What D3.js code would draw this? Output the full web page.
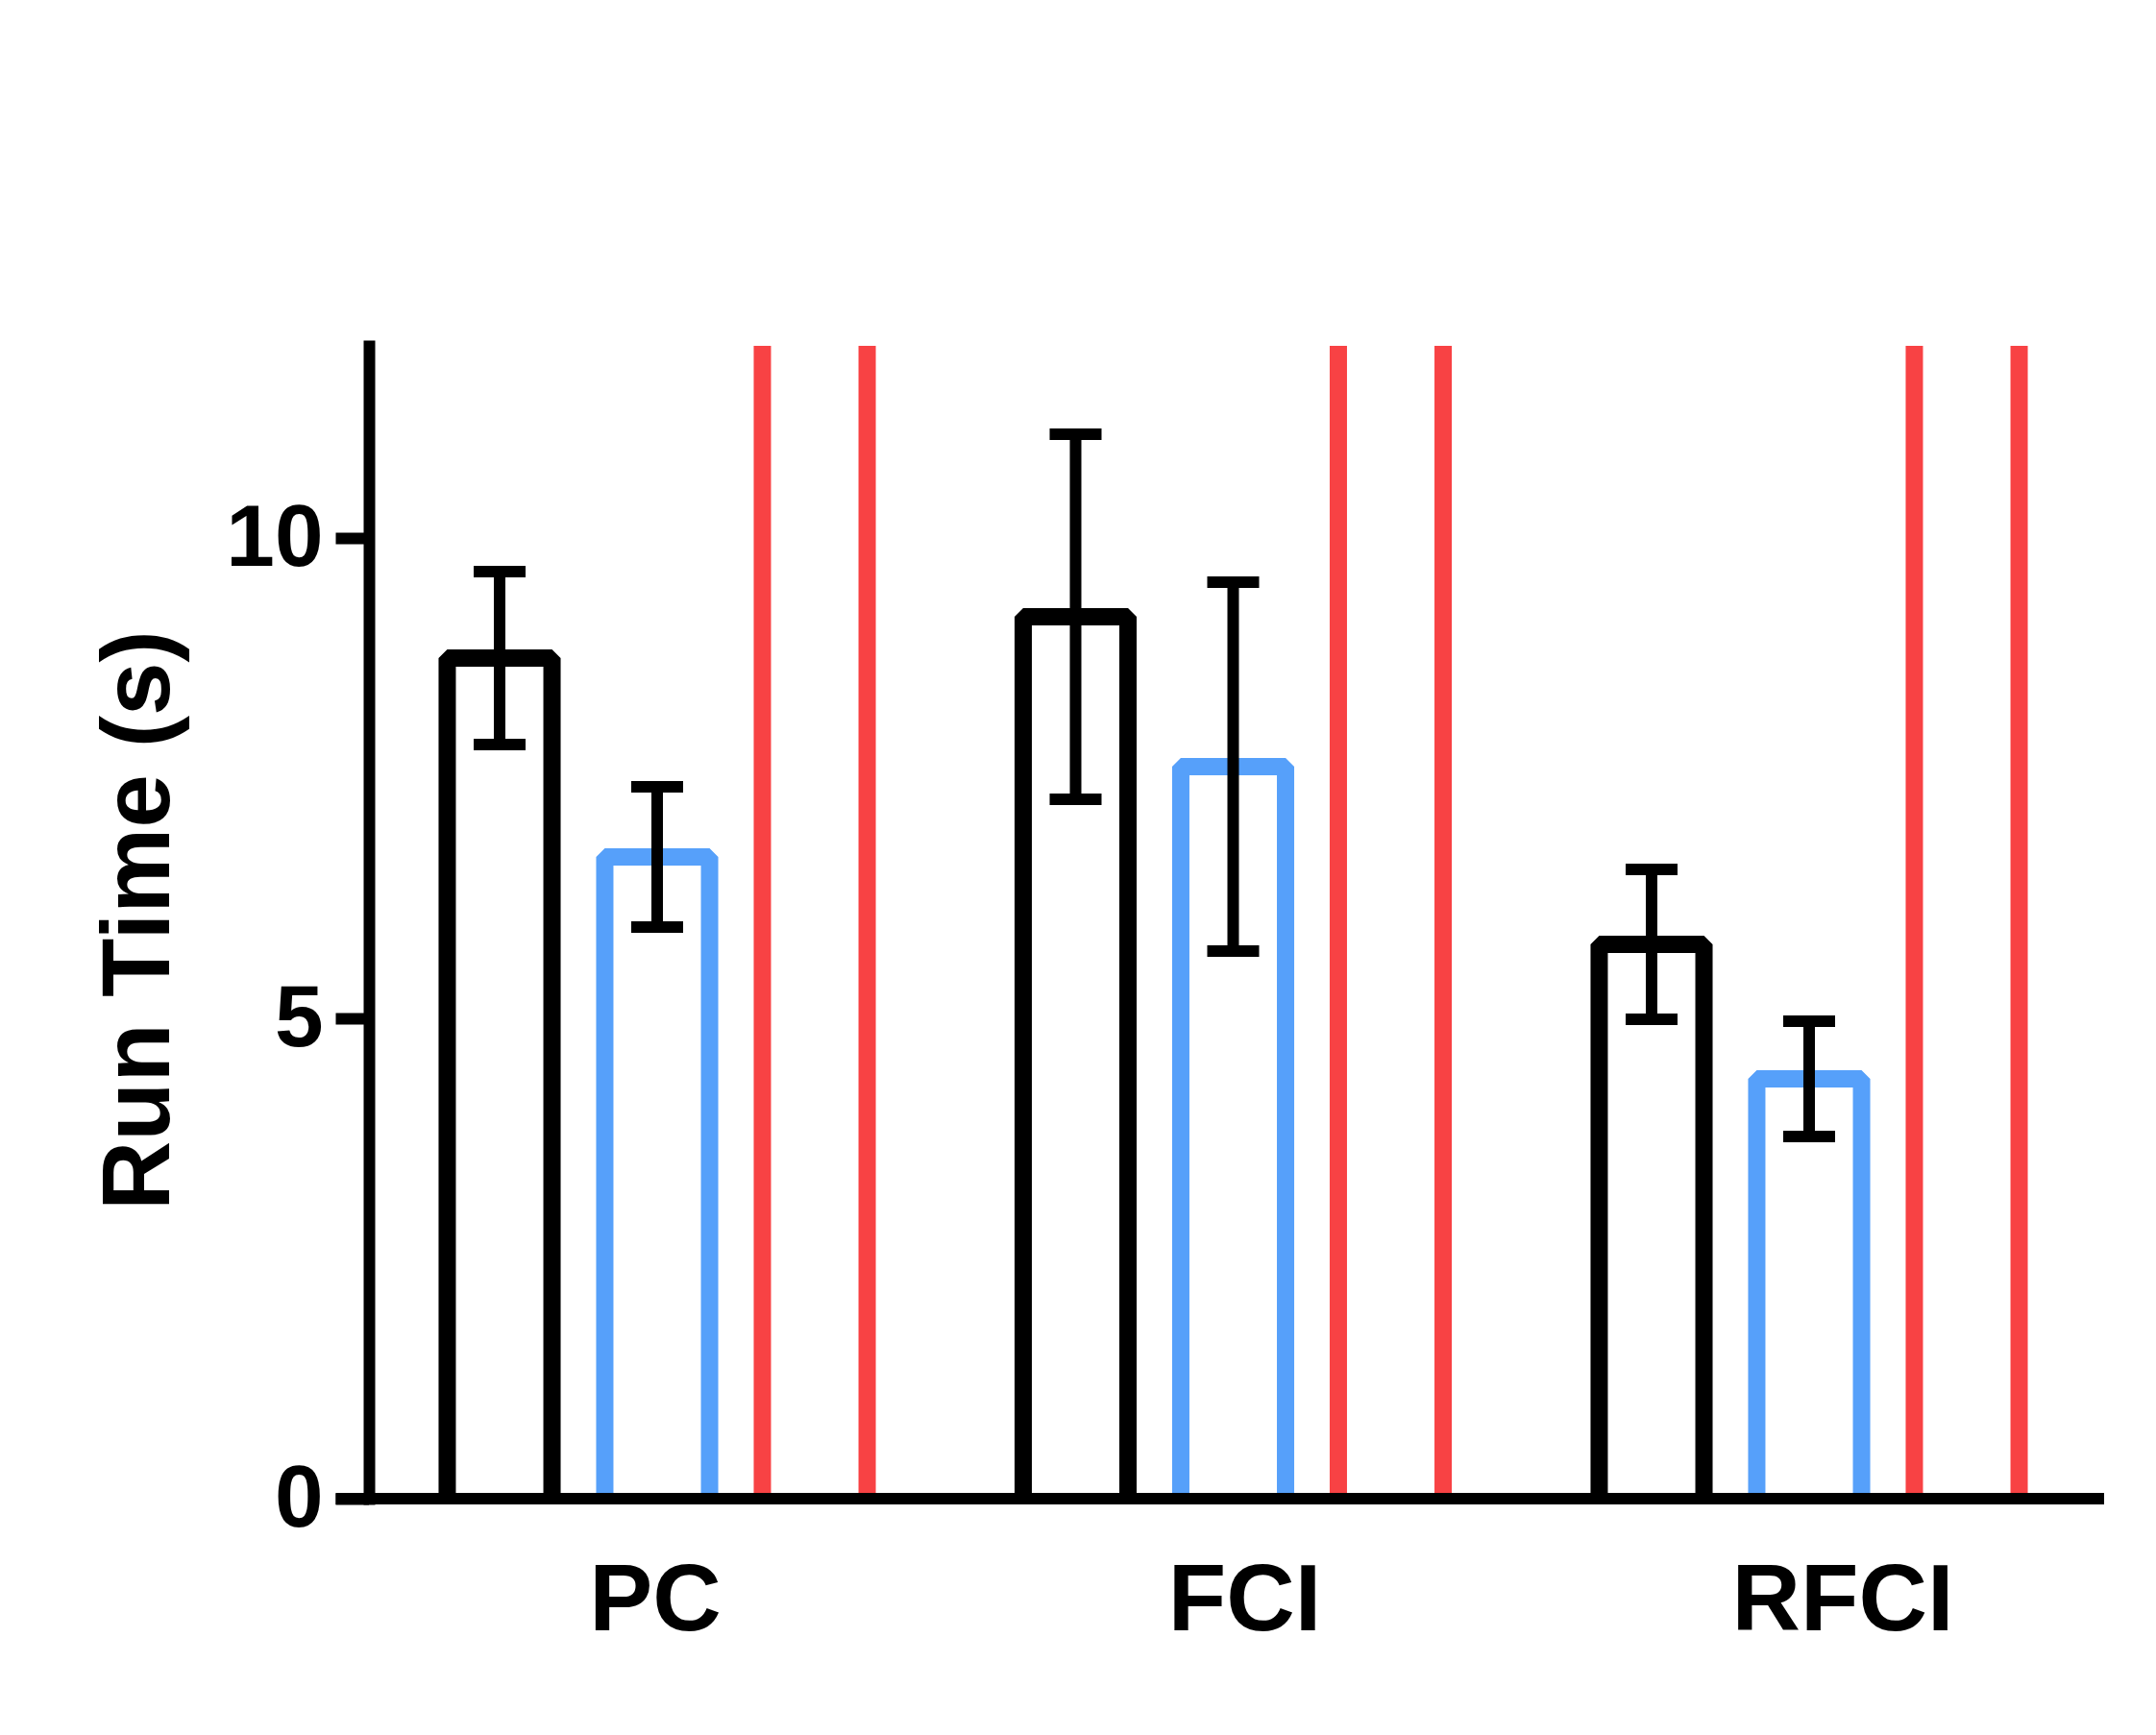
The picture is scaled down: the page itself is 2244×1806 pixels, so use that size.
<!DOCTYPE html>
<html>
<head>
<meta charset="utf-8">
<script src="https://cdn.jsdelivr.net/npm/d3@7"></script>
<style>
  body { margin: 0; background: #fff; }
  svg { display: block; }
  text { font-family: "Liberation Sans", Arial, sans-serif; font-weight: bold; fill: #000; }
</style>
</head>
<body>
<svg id="chart" width="2244" height="1806"></svg>
<script>
// categories and series
const categories = ["PC", "FCI", "RFCI"];
const seriesKeys = ["A", "B", "C"];
const seriesColors = ["#000000", "#56A0FA", "#F84244"];

// mean run time (s) and error per series
const meanA = [8.75, 9.18, 5.77];
const errA  = [0.90, 1.90, 0.78];
const meanB = [6.68, 7.62, 4.37];
const errB  = [0.73, 1.92, 0.60];
// third series runs off the top of the 0-12 axis in the original
const meanC = [13, 13, 13];

const yTicks = [0, 5, 10];
const yMax = 12;
const yTitle = "Run Time (s)";

// layout
const axisX = 384, plotTop = 360, plotBottom = 1560;
const labelNudge = [-2, 12, 35];

const rows = [];
categories.forEach((c, i) => {
  rows.push({cat: c, key: "A", v: meanA[i], e: errA[i]});
  rows.push({cat: c, key: "B", v: meanB[i], e: errB[i]});
  rows.push({cat: c, key: "C", v: meanC[i], e: null});
});

const svg = d3.select("#chart");

const x0 = d3.scaleBand().domain(categories).range([438, 2129]).paddingInner(0.1793).paddingOuter(0);
const x1 = d3.scaleBand().domain(seriesKeys).range([0, x0.bandwidth()]).paddingInner(0.335).paddingOuter(0.1675);
const y = d3.scaleLinear().domain([0, yMax]).range([plotBottom, plotTop]);
const color = d3.scaleOrdinal().domain(seriesKeys).range(seriesColors);

svg.append("defs").append("clipPath").attr("id", "plotClip")
  .append("rect").attr("x", 0).attr("y", plotTop).attr("width", 2244).attr("height", plotBottom - plotTop + 10);

// bars (open outline, no bottom edge)
const bars = svg.append("g").attr("clip-path", "url(#plotClip)");
bars.selectAll("path.bar")
  .data(rows)
  .join("path")
  .attr("class", "bar")
  .attr("d", d => {
    const l = x0(d.cat) + x1(d.key), r = l + x1.bandwidth();
    return `M${l},${y(0)}V${y(d.v)}H${r}V${y(0)}`;
  })
  .attr("fill", "none")
  .attr("stroke", d => color(d.key))
  .attr("stroke-width", 18)
  .attr("stroke-linejoin", "bevel");

// error bars
const capW = 54;
const eb = svg.append("g").selectAll("g.err")
  .data(rows.filter(d => d.e != null))
  .join("g")
  .attr("class", "err")
  .attr("transform", d => `translate(${x0(d.cat) + x1(d.key) + x1.bandwidth() / 2},0)`);
eb.append("line")
  .attr("y1", d => y(d.v - d.e)).attr("y2", d => y(d.v + d.e))
  .attr("stroke", "#000").attr("stroke-width", 12);
eb.selectAll("line.cap")
  .data(d => [d.v - d.e, d.v + d.e])
  .join("line")
  .attr("class", "cap")
  .attr("x1", -capW / 2).attr("x2", capW / 2)
  .attr("y1", v => y(v)).attr("y2", v => y(v))
  .attr("stroke", "#000").attr("stroke-width", 12);

// y axis
const yAxis = svg.append("g")
  .attr("transform", `translate(${axisX},0)`)
  .call(d3.axisLeft(y).tickValues(yTicks).tickSize(34.5).tickSizeOuter(0).tickPadding(13));
yAxis.select(".domain").attr("stroke", "#000").attr("stroke-width", 12).attr("stroke-linecap", "square");
yAxis.selectAll(".tick line").attr("stroke", "#000").attr("stroke-width", 12);
yAxis.selectAll(".tick text")
  .attr("font-size", 91)
  .attr("font-family", null)
  .attr("dy", "0.31em");

// x axis line
svg.append("line")
  .attr("x1", axisX - 34.5).attr("x2", 2190)
  .attr("y1", y(0)).attr("y2", y(0))
  .attr("stroke", "#000").attr("stroke-width", 12);

// category labels
svg.append("g").selectAll("text.cat")
  .data(categories)
  .join("text")
  .attr("class", "cat")
  .attr("x", (c, i) => x0(c) + x0.bandwidth() / 2 + labelNudge[i])
  .attr("y", 1697)
  .attr("text-anchor", "middle")
  .attr("font-size", 99)
  .text(c => c);

// y title
svg.append("text")
  .attr("transform", "translate(176,958) rotate(-90)")
  .attr("text-anchor", "middle")
  .attr("font-size", 100)
  .text(yTitle);
</script>
</body>
</html>
